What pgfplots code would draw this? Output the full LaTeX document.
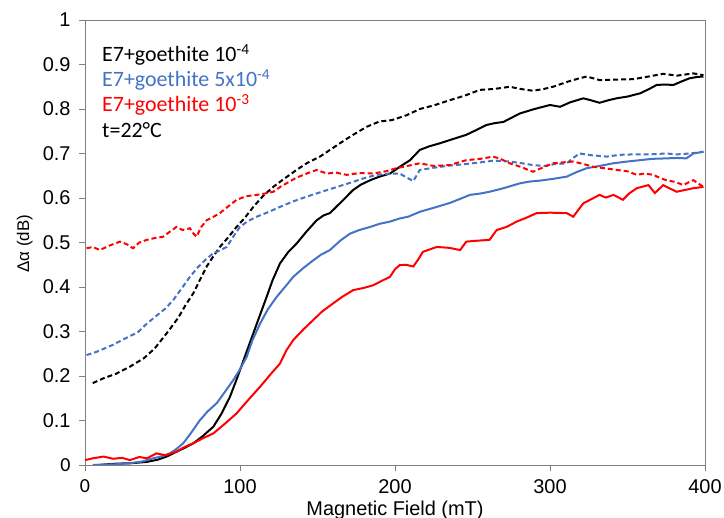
\documentclass[border=0pt]{standalone}
\usepackage{pgfplots}
\pgfplotsset{compat=1.18}
\usepackage{fontspec}
\setmainfont{Liberation Sans}
\newfontfamily\carlito{Carlito}
\definecolor{cblue}{RGB}{68,114,196}
\definecolor{cred}{RGB}{255,0,0}
\definecolor{axgray}{RGB}{128,128,128}
\begin{document}
\begin{tikzpicture}
\begin{axis}[
  at={(0,0)}, anchor=south west,
  scale only axis, width=620bp, height=445bp,
  xmin=0, xmax=400, ymin=0, ymax=1,
  xtick={0,100,200,300,400},
  xticklabels={{\carlito 0},100,200,300,400},
  ytick={0,0.1,0.2,0.3,0.4,0.5,0.6,0.7,0.8,0.9,1},
  yticklabels={{\carlito 0},0.1,0.2,0.3,0.4,0.5,0.6,0.7,0.8,0.9,1},
  tick align=outside, major tick length=6bp,
  xtick pos=bottom, ytick pos=left,
  tick style={draw=axgray, line width=0.8bp},
  axis line style={draw=axgray, line width=0.8bp},
  /pgf/number format/assume math mode=true,
  tick label style={font=\fontsize{20}{23}\selectfont},
  xticklabel style={yshift=-5bp},
  yticklabel style={xshift=-5bp},
  xlabel={Magnetic Field (mT)},
  xlabel style={at={(axis description cs:0.5,-0.1124)}, anchor=base, font=\fontsize{20}{23}\selectfont},
  ylabel={Δα (dB)},
  ylabel style={at={(axis description cs:-0.097,0.497)}, anchor=center, font=\fontsize{17}{20}\selectfont},
  every axis plot/.append style={line width=2bp},
]
% black dashed
\addplot[black, dash pattern=on 5bp off 3bp] coordinates {
(5,0.184)(12,0.195)(20,0.205)(29,0.221)(38,0.24)(45,0.262)(52.7,0.296)(60,0.33)(65,0.36)(69.9,0.386)(74,0.415)(78.5,0.446)(83,0.47)(87,0.49)(92,0.51)(97.8,0.535)(103,0.555)(108.6,0.58)(115,0.605)(121.5,0.625)(128,0.642)(136.5,0.663)(143,0.678)(151.6,0.693)(158,0.708)(164.5,0.723)(172,0.74)(181.7,0.76)(190,0.772)(198,0.775)(207.5,0.786)(216,0.80)(225,0.808)(235.5,0.82)(245,0.83)(254.8,0.843)(264,0.845)(274,0.85)(281,0.845)(289,0.841)(296,0.845)(302,0.85)(312,0.862)(318,0.868)(323.7,0.873)(332,0.865)(342,0.866)(353.7,0.867)(362,0.872)(373,0.879)(382,0.875)(392.5,0.880)(399,0.876)};
% black solid
\addplot[black] coordinates {
(8,0)(20,0.003)(30,0.004)(40,0.007)(47,0.012)(52.7,0.019)(58,0.028)(64,0.038)(70,0.049)(76,0.065)(82.8,0.086)(88,0.115)(93.5,0.153)(97,0.185)(100,0.213)(104,0.252)(108.6,0.296)(113,0.338)(117.2,0.378)(121,0.415)(125.8,0.453)(131,0.478)(136.6,0.498)(143,0.525)(149.5,0.55)(154,0.561)(158,0.566)(165,0.59)(173,0.618)(178,0.63)(184,0.64)(190,0.648)(196.8,0.655)(203,0.67)(209.7,0.685)(216,0.708)(222,0.716)(229,0.723)(237,0.732)(246,0.742)(252,0.752)(259,0.764)(264,0.768)(270,0.771)(275,0.78)(280.6,0.79)(290,0.80)(300,0.809)(306.5,0.805)(313,0.815)(321.5,0.824)(326,0.82)(332,0.814)(338,0.82)(343,0.824)(350,0.828)(358,0.835)(364,0.845)(368.8,0.854)(374,0.855)(379.6,0.854)(385,0.862)(390,0.869)(395,0.872)(399,0.873)};
% blue dashed
\addplot[cblue, dash pattern=on 5bp off 3bp] coordinates {
(1,0.247)(8,0.255)(18,0.27)(28,0.288)(34,0.298)(40,0.318)(47,0.338)(52,0.352)(57,0.371)(62,0.395)(67.7,0.423)(73,0.445)(78,0.462)(82.8,0.476)(87,0.482)(91.4,0.49)(96,0.515)(100,0.535)(105,0.548)(110.8,0.558)(118,0.568)(125.8,0.58)(134,0.592)(143,0.603)(151,0.612)(160,0.622)(170,0.633)(179.6,0.644)(188,0.652)(196.8,0.655)(203,0.655)(208.6,0.644)(211.8,0.638)(216,0.663)(225,0.668)(235.5,0.673)(245,0.676)(254.8,0.680)(264,0.684)(274,0.682)(282,0.678)(289,0.674)(296,0.672)(303,0.676)(310.8,0.678)(315,0.69)(319,0.70)(327,0.696)(336.6,0.693)(345,0.697)(353.7,0.698)(364,0.698)(375,0.70)(382,0.698)(390,0.70)(395,0.702)(399,0.704)};
% blue solid
\addplot[cblue] coordinates {
(5,0)(15,0.001)(22,0.002)(29,0.004)(37,0.008)(44,0.015)(50,0.02)(54.8,0.026)(59,0.036)(63.4,0.049)(68,0.07)(74,0.10)(79,0.12)(85,0.139)(90,0.163)(95.7,0.191)(100,0.215)(104.3,0.243)(108,0.28)(113,0.318)(118,0.35)(123.7,0.378)(129,0.40)(134.4,0.423)(141,0.443)(147.3,0.46)(152,0.472)(158,0.483)(165,0.505)(171,0.52)(177,0.528)(184,0.535)(190,0.542)(196.8,0.547)(203,0.554)(208.6,0.558)(216,0.569)(225,0.578)(235.5,0.589)(242,0.598)(248.4,0.607)(255,0.61)(261,0.614)(270,0.622)(280.6,0.633)(287,0.637)(293.5,0.639)(302,0.643)(310.8,0.648)(317,0.658)(323.7,0.667)(332,0.672)(340.8,0.678)(350,0.682)(358,0.685)(366,0.688)(375,0.689)(382,0.69)(388,0.689)(392.5,0.70)(396,0.702)(399,0.704)};
% red dashed
\addplot[cred, dash pattern=on 5bp off 3bp] coordinates {
(1,0.487)(5,0.49)(9.7,0.483)(15,0.492)(22.6,0.502)(27,0.496)(31,0.487)(35,0.5)(40,0.506)(45,0.51)(50.5,0.513)(55,0.525)(59,0.535)(63,0.528)(67.7,0.532)(70,0.52)(72,0.513)(75,0.535)(78.5,0.55)(83,0.558)(87,0.566)(92,0.58)(97.8,0.596)(104,0.604)(110.8,0.607)(116,0.61)(121.5,0.614)(126,0.625)(130,0.633)(136,0.645)(143,0.655)(149.5,0.663)(156,0.655)(162,0.657)(168.8,0.652)(177,0.656)(186,0.655)(194,0.66)(201,0.667)(208,0.672)(216,0.678)(225,0.672)(235.5,0.674)(241,0.68)(246,0.685)(255,0.688)(263.4,0.693)(268,0.688)(274,0.678)(281,0.67)(289,0.659)(295,0.668)(302,0.678)(308,0.68)(315,0.682)(322,0.676)(328,0.67)(335,0.667)(343,0.663)(350,0.66)(356,0.652)(361,0.655)(366.7,0.652)(371,0.645)(375,0.64)(381,0.636)(386,0.629)(390,0.636)(392.5,0.64)(396,0.632)(399,0.625)};
% red solid
\addplot[cred] coordinates {
(0,0.011)(5,0.015)(12,0.019)(18,0.014)(24,0.016)(29,0.011)(35,0.018)(40,0.015)(46,0.026)(52,0.022)(59,0.03)(64,0.04)(70,0.049)(76,0.06)(82.8,0.071)(90,0.092)(97.8,0.116)(105,0.145)(113,0.176)(120,0.205)(125.8,0.228)(130,0.258)(134.4,0.281)(141,0.305)(147.3,0.326)(153,0.345)(160,0.363)(166,0.378)(173,0.393)(180,0.398)(186,0.404)(191,0.413)(196.8,0.423)(200,0.44)(203,0.449)(207,0.45)(211.8,0.446)(215,0.462)(218,0.479)(222,0.484)(227,0.49)(235,0.488)(242,0.483)(246,0.502)(253,0.504)(261,0.506)(265.6,0.528)(272,0.535)(278.5,0.547)(285,0.556)(291.4,0.566)(300,0.567)(310.8,0.566)(315,0.558)(318,0.572)(321.5,0.588)(327,0.598)(332,0.607)(336,0.601)(341,0.607)(347,0.596)(351,0.61)(356,0.622)(363.5,0.629)(367.7,0.611)(373,0.629)(377,0.622)(381.7,0.614)(387,0.618)(392.5,0.622)(399,0.625)};
% annotation text
\node[anchor=west, inner sep=0pt, font=\carlito\fontsize{22}{26}\selectfont, text=black] at (axis cs:11,0.921) {E7+goethite 10\textsuperscript{-4}};
\node[anchor=west, inner sep=0pt, font=\carlito\fontsize{22}{26}\selectfont, text=cblue] at (axis cs:11,0.865) {E7+goethite 5x10\textsuperscript{-4}};
\node[anchor=west, inner sep=0pt, font=\carlito\fontsize{22}{26}\selectfont, text=cred] at (axis cs:11,0.809) {E7+goethite 10\textsuperscript{-3}};
\node[anchor=west, inner sep=0pt, font=\carlito\fontsize{22}{26}\selectfont, text=black] at (axis cs:11,0.753) {t=22°C};
\end{axis}
\pgfresetboundingbox
\path[use as bounding box] (-85bp,-53bp) rectangle (639bp,465bp);
\end{tikzpicture}
\end{document}
